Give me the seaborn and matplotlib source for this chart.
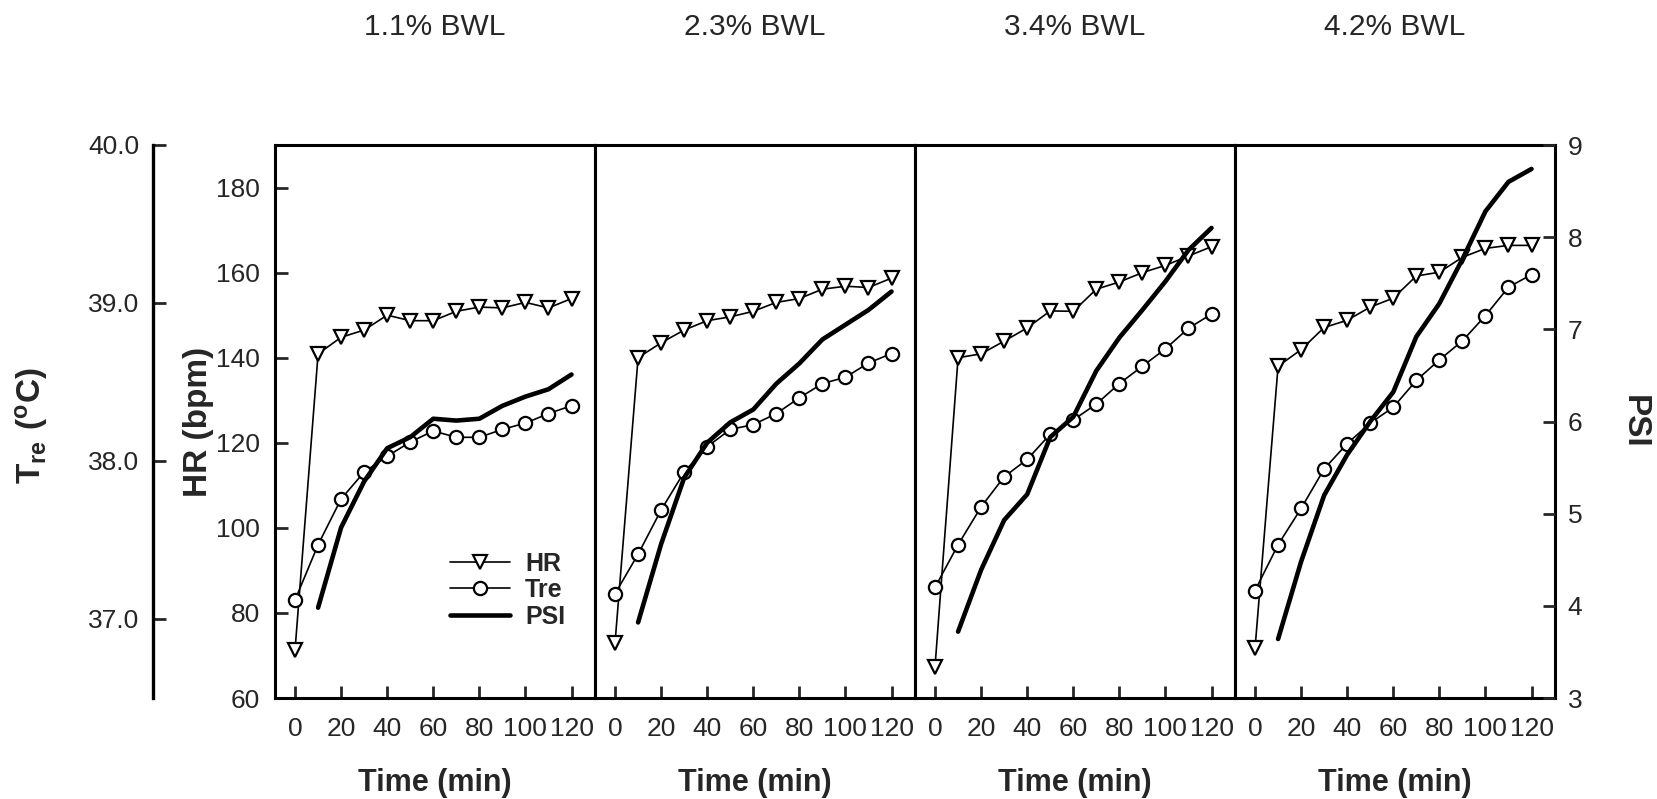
import matplotlib
matplotlib.use('Agg')
import matplotlib.pyplot as plt
import seaborn as sns
from matplotlib.lines import Line2D

sns.set_style('white')
plt.rcParams['font.family'] = ['Liberation Sans', 'DejaVu Sans']
plt.rcParams['mathtext.fontset'] = 'custom'
plt.rcParams['mathtext.rm'] = 'Liberation Sans'
plt.rcParams['mathtext.bf'] = 'Liberation Sans:bold'

# --- data ---
bwl = ['1.1% BWL', '2.3% BWL', '3.4% BWL', '4.2% BWL']
time = [0, 10, 20, 30, 40, 50, 60, 70, 80, 90, 100, 110, 120]
psi_time = [10, 20, 30, 40, 50, 60, 70, 80, 90, 100, 110, 120]

hr_11 = [71.3, 140.9, 144.8, 146.5, 150.0, 148.7, 148.7, 150.9, 151.9, 151.7, 153.0, 151.7, 153.9]
hr_23 = [73.0, 140.0, 143.5, 146.5, 148.7, 149.6, 150.9, 153.0, 153.9, 156.1, 156.8, 156.5, 158.7]
hr_34 = [67.4, 140.0, 140.9, 143.9, 147.0, 151.0, 150.9, 156.1, 157.8, 160.0, 161.7, 163.9, 166.1]
hr_42 = [71.7, 138.0, 141.9, 147.1, 148.8, 151.9, 154.0, 159.2, 160.1, 163.6, 165.7, 166.4, 166.4]

tre_11 = [37.12, 37.47, 37.76, 37.93, 38.03, 38.12, 38.19, 38.15, 38.15, 38.20, 38.24, 38.30, 38.35]
tre_23 = [37.16, 37.41, 37.69, 37.93, 38.09, 38.20, 38.23, 38.30, 38.40, 38.49, 38.53, 38.62, 38.68]
tre_34 = [37.20, 37.47, 37.71, 37.90, 38.01, 38.17, 38.26, 38.36, 38.49, 38.60, 38.71, 38.84, 38.93]
tre_42 = [37.18, 37.47, 37.70, 37.95, 38.11, 38.24, 38.34, 38.51, 38.64, 38.76, 38.92, 39.10, 39.18]

psi_11 = [3.98, 4.85, 5.35, 5.71, 5.83, 6.03, 6.01, 6.03, 6.17, 6.27, 6.35, 6.51]
psi_23 = [3.82, 4.67, 5.39, 5.77, 5.99, 6.13, 6.41, 6.63, 6.89, 7.05, 7.21, 7.41]
psi_34 = [3.72, 4.39, 4.93, 5.21, 5.83, 6.05, 6.55, 6.91, 7.21, 7.52, 7.86, 8.10]
psi_42 = [3.64, 4.48, 5.20, 5.64, 6.00, 6.32, 6.92, 7.28, 7.76, 8.28, 8.60, 8.74]

hr_all = [hr_11, hr_23, hr_34, hr_42]
tre_all = [tre_11, tre_23, tre_34, tre_42]
psi_all = [psi_11, psi_23, psi_34, psi_42]

# --- layout (pixels of the 1657x799 figure) ---
W, H = 1657, 799
x0, top, bot, pw = 275, 145, 698, 320
fig = plt.figure(figsize=(W / 100, H / 100), dpi=100)

frame_lw = 2.2
tick_fs = 19
for i in range(4):
    ax = fig.add_axes([(x0 + i * pw) / W, 1 - bot / H, pw / W, (bot - top) / H])
    ax_t = ax.twinx()
    ax_p = ax.twinx()

    # HR (triangles), Tre (circles), PSI (thick line)
    sns.lineplot(x=time, y=hr_all[i], ax=ax, color='black', linewidth=1.2,
                 marker='v', markersize=10.5, markerfacecolor='white',
                 markeredgecolor='black', markeredgewidth=1.6, legend=False)
    sns.lineplot(x=time, y=tre_all[i], ax=ax_t, color='black', linewidth=1.2,
                 marker='o', markersize=9.5, markerfacecolor='white',
                 markeredgecolor='black', markeredgewidth=1.6, legend=False)
    sns.lineplot(x=psi_time, y=psi_all[i], ax=ax_p, color='black',
                 linewidth=3.3, legend=False)

    ax.set_xlim(-8.7, 130.2)
    ax.set_ylim(60, 190)
    ax_t.set_ylim(36.5, 40)
    ax_p.set_ylim(3, 9)

    ax.set_xticks(range(0, 121, 20))
    ax.tick_params(axis='x', direction='in', length=9, width=2, pad=14,
                   labelsize=tick_fs, bottom=True, top=False)
    for s in ax.spines.values():
        s.set_linewidth(frame_lw)
        s.set_color('black')
    for a in (ax_t, ax_p):
        for s in a.spines.values():
            s.set_visible(False)
    ax_t.set_yticks([])

    if i == 0:
        ax.set_yticks(range(60, 181, 20))
        ax.tick_params(axis='y', direction='in', length=9, width=2, pad=11,
                       labelsize=tick_fs, left=True)
    else:
        ax.set_yticks([])
    if i == 3:
        ax_p.set_yticks(range(3, 10))
        ax_p.tick_params(axis='y', direction='in', length=9, width=2, pad=9,
                         labelsize=tick_fs, right=True)
    else:
        ax_p.set_yticks([])
    for a in (ax, ax_t, ax_p):
        a.set_xlabel('')
        a.set_ylabel('')

    cx = (x0 + i * pw + pw / 2) / W
    fig.text(cx, 1 - 27 / H, bwl[i], ha='center', va='center', fontsize=21.5)
    fig.text(cx, 1 - 783 / H, 'Time (min)', ha='center', va='center',
             fontsize=22, fontweight='bold')

    if i == 0:
        handles = [
            Line2D([], [], color='black', lw=1.2, marker='v', ms=10.5, mfc='white', mec='black', mew=1.6),
            Line2D([], [], color='black', lw=1.2, marker='o', ms=9.5, mfc='white', mec='black', mew=1.6),
            Line2D([], [], color='black', lw=3.3),
        ]
        ax_p.legend(handles, ['HR', 'Tre', 'PSI'], loc='center', bbox_to_anchor=(0.727, 0.195),
                    frameon=False, handlelength=2.4, handletextpad=0.6, labelspacing=0.1,
                    borderpad=0, prop={'weight': 'bold', 'size': 18})

# separate Tre axis on the far left
ax_tre = fig.add_axes([153 / W, 1 - bot / H, 0.001, (bot - top) / H])
ax_tre.patch.set_visible(False)
ax_tre.set_ylim(36.5, 40)
ax_tre.set_xticks([])
ax_tre.set_yticks([37, 38, 39, 40])
ax_tre.set_yticklabels(['37.0', '38.0', '39.0', '40.0'])
ax_tre.tick_params(axis='y', direction='in', length=9, width=2, pad=10, labelsize=tick_fs, left=True)
for name, s in ax_tre.spines.items():
    s.set_visible(name == 'left')
    s.set_linewidth(2.4)
    s.set_color('black')

fig.text(198 / W, 1 - 421.5 / H, 'HR (bpm)', rotation=90, ha='center', va='center',
         fontsize=24, fontweight='bold')
fig.text(31 / W, 1 - 426 / H, r'$\mathbf{T_{re}\ (^{o}C)}$', rotation=90, ha='center',
         va='center', fontsize=24)
fig.text(1634 / W, 1 - 421.5 / H, 'PSI', rotation=270, ha='center', va='center',
         fontsize=24, fontweight='bold')

plt.savefig('out.png', dpi=100, facecolor='white')
